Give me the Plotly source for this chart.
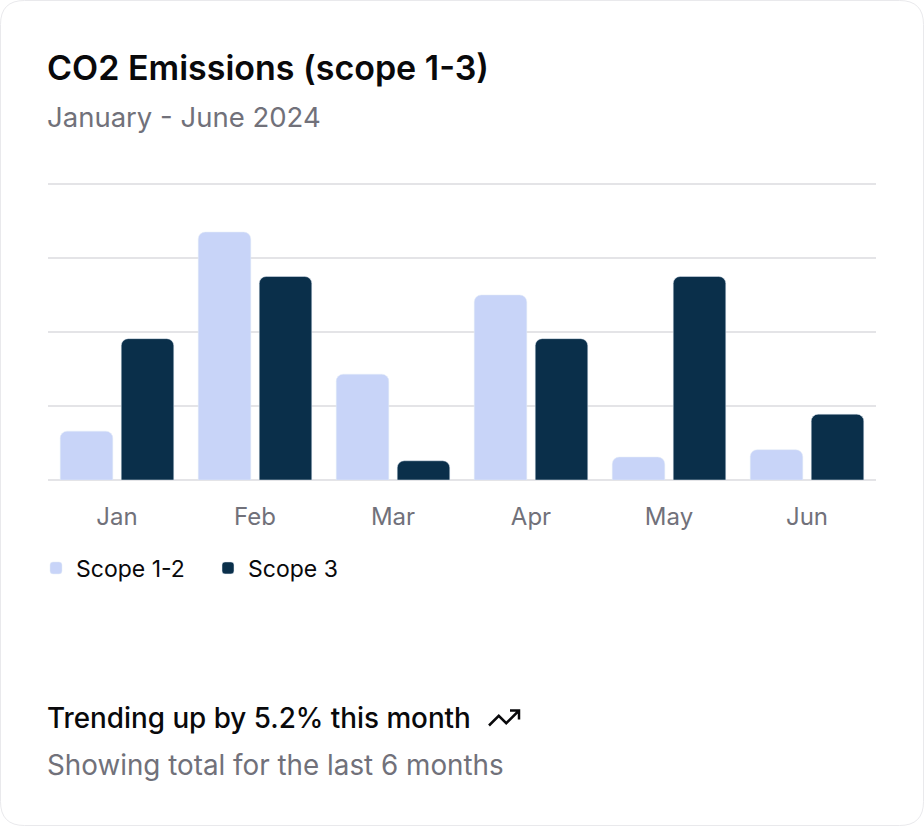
import plotly.graph_objects as go

months = ["Jan", "Feb", "Mar", "Apr", "May", "Jun"]
scope_12 = [66, 335, 143, 250, 31, 41]
scope_3 = [191, 275, 26, 191, 275, 89]

LIGHT = "#c8d4f8"
DARK = "#0a2f4a"
GRAY = "#71717a"
INK = "#09090b"
FONT = "Inter"

W, H = 924, 826
YMAX = 404  # a little headroom so the 400 gridline shows
ML, MR, MB = 48, 48, 346
PH = round(296 * YMAX / 400)
MT = H - MB - PH
PW = W - ML - MR


def py(px_y):
    # pixel row -> paper y
    return (H - MB - px_y) / PH


def pxx(px_x):
    return (px_x - ML) / PW


fig = go.Figure()
fig.add_trace(go.Bar(x=months, y=scope_12, name="Scope 1-2", marker_color=LIGHT))
fig.add_trace(go.Bar(x=months, y=scope_3, name="Scope 3", marker_color=DARK))

# card outline
r = 24
x0, x1, y0, y1 = pxx(0.5), pxx(W - 0.5), py(H - 0.5), py(0.5)
rx, ry = r / PW, r / PH
card = (f"M{x0 + rx},{y1} L{x1 - rx},{y1} Q{x1},{y1} {x1},{y1 - ry} "
        f"L{x1},{y0 + ry} Q{x1},{y0} {x1 - rx},{y0} L{x0 + rx},{y0} "
        f"Q{x0},{y0} {x0},{y0 + ry} L{x0},{y1 - ry} Q{x0},{y1} {x0 + rx},{y1} Z")

# trending-up icon, pixels relative to its bottom-left corner
icon = "M0,0 L9.75,9.75 L17.25,2.25 L30,15 M21,15 L30,15 L30,6"

TX = pxx(45)  # annotation text starts ~3px right of its anchor

fig.update_layout(
    width=W, height=H,
    margin=dict(l=ML, r=MR, t=MT, b=MB),
    paper_bgcolor="white", plot_bgcolor="white",
    font=dict(family=FONT, color=INK),
    barmode="group", bargap=0.116, bargroupgap=0.138, barcornerradius=7,
    showlegend=True,
    legend=dict(orientation="h", x=pxx(36), xanchor="left", y=py(568), yanchor="middle",
                font=dict(size=23, color=INK), itemwidth=30, entrywidth=127,
                traceorder="normal"),
    xaxis=dict(showgrid=False, showline=False, zeroline=False,
               tickfont=dict(size=24, color=GRAY), ticks="", ticklabelstandoff=20),
    yaxis=dict(range=[0, YMAX], dtick=100, showticklabels=False, showline=False,
               gridcolor="#e4e4e7", gridwidth=1.5, zeroline=True,
               zerolinecolor="#e4e4e7", zerolinewidth=1.5),
    shapes=[
        dict(type="path", xref="paper", yref="paper", path=card,
             line=dict(color="#e9e9ec", width=1), layer="below"),
        dict(type="path", xref="paper", yref="paper", xsizemode="pixel",
             ysizemode="pixel", xanchor=pxx(489), yanchor=py(725.5),
             path=icon, line=dict(color=INK, width=2.5)),
    ],
    annotations=[
        dict(text="CO2 Emissions (scope 1-3)", xref="paper", yref="paper",
             x=TX, y=py(67), xanchor="left", yanchor="middle", showarrow=False,
             font=dict(size=34, color=INK, weight=600)),
        dict(text="January - June 2024", xref="paper", yref="paper",
             x=TX, y=py(117), xanchor="left", yanchor="middle", showarrow=False,
             font=dict(size=27.5, color=GRAY)),
        dict(text="Trending up by 5.2% this month", xref="paper", yref="paper",
             x=TX, y=py(718), xanchor="left", yanchor="middle", showarrow=False,
             font=dict(size=27.8, color=INK, weight=500)),
        dict(text="Showing total for the last 6 months", xref="paper", yref="paper",
             x=TX, y=py(765), xanchor="left", yanchor="middle", showarrow=False,
             font=dict(size=27.8, color=GRAY)),
    ],
)

fig.write_html("out.html", config={"displayModeBar": False},
               post_script="document.body.style.margin='0';")
